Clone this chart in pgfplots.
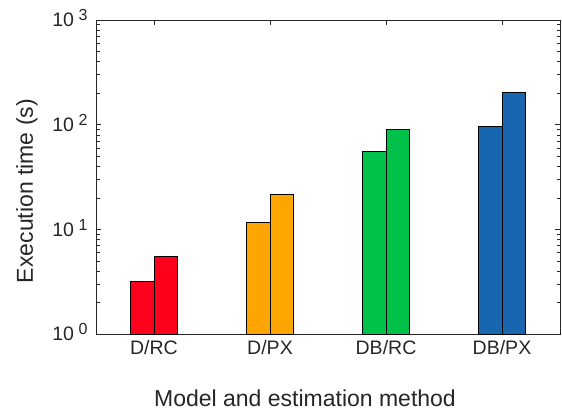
\documentclass[border=0pt]{standalone}
\usepackage{pgfplots}
\pgfplotsset{compat=1.18}
\usepackage{fontspec}
\setmainfont{Liberation Sans}
\definecolor{cRed}{RGB}{255,0,28}
\definecolor{cOrange}{RGB}{255,165,0}
\definecolor{cGreen}{RGB}{0,194,74}
\definecolor{cBlue}{RGB}{24,102,176}
\definecolor{axgray}{RGB}{38,38,38}
\newcommand{\tl}[1]{10\hspace{4.5pt}\smash{\raisebox{6pt}{\fontsize{16}{16}\selectfont #1}}}
\begin{document}
\begin{tikzpicture}[x=1pt,y=1pt]
\useasboundingbox (0,0) rectangle (562,413);
\begin{axis}[
  at={(96pt,79pt)}, anchor=south west,
  scale only axis, width=464pt, height=314pt,
  ymode=log, ymin=1, ymax=1000, xmin=0.5, xmax=4.5,
  xtick={1,2,3,4}, xticklabels={D/RC,D/PX,DB/RC,DB/PX},
  ytick={1,10,100,1000}, yticklabels={\tl{0},\tl{1},\tl{2},\tl{3}},
  minor ytick={2,3,4,5,6,7,8,9,20,30,40,50,60,70,80,90,200,300,400,500,600,700,800,900},
  tick align=inside, major tick length=5pt, minor tick length=3.5pt,
  axis line style={color=axgray, line width=0.6pt},
  every tick/.style={axgray, line width=0.6pt},
  ticklabel style={font=\fontsize{19.5}{22}\selectfont, text=axgray},
  yticklabel style={xshift=-5pt},
  xticklabel style={yshift=-3pt},
  label style={font=\fontsize{23}{26}\selectfont, text=axgray},
  xlabel={Model and estimation method},
  xlabel style={at={(axis description cs:0.4504,-0.2293)}, anchor=base},
  ylabel={Execution time (s)},
  ylabel style={at={(axis description cs:-0.1358,0.4554)}, anchor=base},
]
\addplot[ybar, bar width=0.2, bar shift=-0.1, fill=cRed, draw=black, line width=0.8pt] coordinates {(1,3.19)};
\addplot[ybar, bar width=0.2, bar shift=0.1, fill=cRed, draw=black, line width=0.8pt] coordinates {(1,5.47)};
\addplot[ybar, bar width=0.2, bar shift=-0.1, fill=cOrange, draw=black, line width=0.8pt] coordinates {(2,11.7)};
\addplot[ybar, bar width=0.2, bar shift=0.1, fill=cOrange, draw=black, line width=0.8pt] coordinates {(2,21.6)};
\addplot[ybar, bar width=0.2, bar shift=-0.1, fill=cGreen, draw=black, line width=0.8pt] coordinates {(3,56)};
\addplot[ybar, bar width=0.2, bar shift=0.1, fill=cGreen, draw=black, line width=0.8pt] coordinates {(3,90.5)};
\addplot[ybar, bar width=0.2, bar shift=-0.1, fill=cBlue, draw=black, line width=0.8pt] coordinates {(4,95.5)};
\addplot[ybar, bar width=0.2, bar shift=0.1, fill=cBlue, draw=black, line width=0.8pt] coordinates {(4,202)};
\end{axis}
\end{tikzpicture}
\end{document}
